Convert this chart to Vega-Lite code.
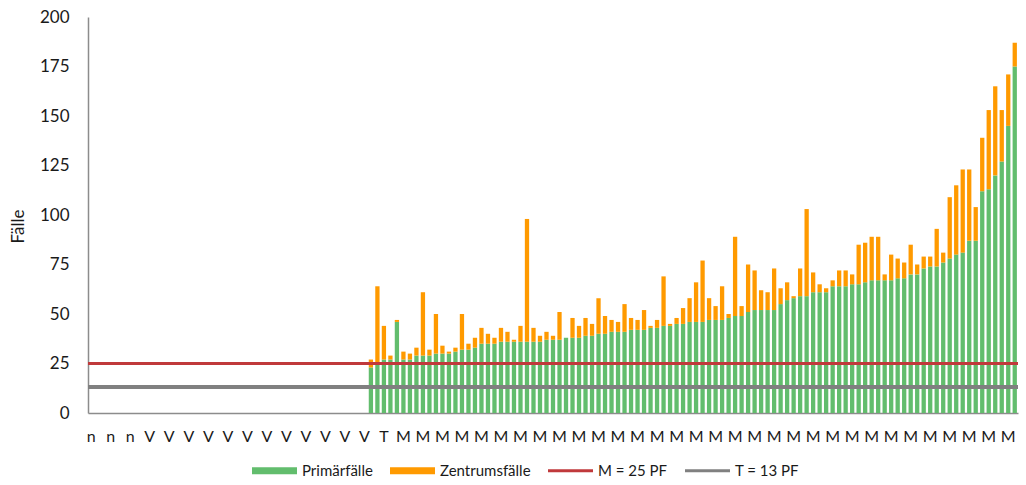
{
  "$schema": "https://vega.github.io/schema/vega-lite/v6.json",
  "width": 930,
  "height": 396,
  "autosize": {"type": "none"},
  "padding": {"left": 88, "top": 17, "right": 8, "bottom": 72},
  "config": {"view": {"stroke": null}, "font": "Lato", "text": {"color": "#1a1a1a"}},
  "data": {"values": [
    {"Kategorie":"n 0","Primärfälle":0,"Zentrumsfälle":0},
    {"Kategorie":"n 1","Primärfälle":0,"Zentrumsfälle":0},
    {"Kategorie":"n 2","Primärfälle":0,"Zentrumsfälle":0},
    {"Kategorie":"n 3","Primärfälle":0,"Zentrumsfälle":0},
    {"Kategorie":"n 4","Primärfälle":0,"Zentrumsfälle":0},
    {"Kategorie":"n 5","Primärfälle":0,"Zentrumsfälle":0},
    {"Kategorie":"n 6","Primärfälle":0,"Zentrumsfälle":0},
    {"Kategorie":"n 7","Primärfälle":0,"Zentrumsfälle":0},
    {"Kategorie":"n 8","Primärfälle":0,"Zentrumsfälle":0},
    {"Kategorie":"V 9","Primärfälle":0,"Zentrumsfälle":0},
    {"Kategorie":"V 10","Primärfälle":0,"Zentrumsfälle":0},
    {"Kategorie":"V 11","Primärfälle":0,"Zentrumsfälle":0},
    {"Kategorie":"V 12","Primärfälle":0,"Zentrumsfälle":0},
    {"Kategorie":"V 13","Primärfälle":0,"Zentrumsfälle":0},
    {"Kategorie":"V 14","Primärfälle":0,"Zentrumsfälle":0},
    {"Kategorie":"V 15","Primärfälle":0,"Zentrumsfälle":0},
    {"Kategorie":"V 16","Primärfälle":0,"Zentrumsfälle":0},
    {"Kategorie":"V 17","Primärfälle":0,"Zentrumsfälle":0},
    {"Kategorie":"V 18","Primärfälle":0,"Zentrumsfälle":0},
    {"Kategorie":"V 19","Primärfälle":0,"Zentrumsfälle":0},
    {"Kategorie":"V 20","Primärfälle":0,"Zentrumsfälle":0},
    {"Kategorie":"V 21","Primärfälle":0,"Zentrumsfälle":0},
    {"Kategorie":"V 22","Primärfälle":0,"Zentrumsfälle":0},
    {"Kategorie":"V 23","Primärfälle":0,"Zentrumsfälle":0},
    {"Kategorie":"V 24","Primärfälle":0,"Zentrumsfälle":0},
    {"Kategorie":"V 25","Primärfälle":0,"Zentrumsfälle":0},
    {"Kategorie":"V 26","Primärfälle":0,"Zentrumsfälle":0},
    {"Kategorie":"V 27","Primärfälle":0,"Zentrumsfälle":0},
    {"Kategorie":"V 28","Primärfälle":0,"Zentrumsfälle":0},
    {"Kategorie":"V 29","Primärfälle":0,"Zentrumsfälle":0},
    {"Kategorie":"V 30","Primärfälle":0,"Zentrumsfälle":0},
    {"Kategorie":"V 31","Primärfälle":0,"Zentrumsfälle":0},
    {"Kategorie":"V 32","Primärfälle":0,"Zentrumsfälle":0},
    {"Kategorie":"V 33","Primärfälle":0,"Zentrumsfälle":0},
    {"Kategorie":"V 34","Primärfälle":0,"Zentrumsfälle":0},
    {"Kategorie":"V 35","Primärfälle":0,"Zentrumsfälle":0},
    {"Kategorie":"V 36","Primärfälle":0,"Zentrumsfälle":0},
    {"Kategorie":"V 37","Primärfälle":0,"Zentrumsfälle":0},
    {"Kategorie":"V 38","Primärfälle":0,"Zentrumsfälle":0},
    {"Kategorie":"V 39","Primärfälle":0,"Zentrumsfälle":0},
    {"Kategorie":"V 40","Primärfälle":0,"Zentrumsfälle":0},
    {"Kategorie":"V 41","Primärfälle":0,"Zentrumsfälle":0},
    {"Kategorie":"V 42","Primärfälle":0,"Zentrumsfälle":0},
    {"Kategorie":"V 43","Primärfälle":23,"Zentrumsfälle":4},
    {"Kategorie":"V 44","Primärfälle":25,"Zentrumsfälle":39},
    {"Kategorie":"T 45","Primärfälle":27,"Zentrumsfälle":17},
    {"Kategorie":"T 46","Primärfälle":27,"Zentrumsfälle":2},
    {"Kategorie":"T 47","Primärfälle":46,"Zentrumsfälle":1},
    {"Kategorie":"M 48","Primärfälle":27,"Zentrumsfälle":4},
    {"Kategorie":"M 49","Primärfälle":27,"Zentrumsfälle":3},
    {"Kategorie":"M 50","Primärfälle":29,"Zentrumsfälle":4},
    {"Kategorie":"M 51","Primärfälle":29,"Zentrumsfälle":32},
    {"Kategorie":"M 52","Primärfälle":29,"Zentrumsfälle":3},
    {"Kategorie":"M 53","Primärfälle":30,"Zentrumsfälle":20},
    {"Kategorie":"M 54","Primärfälle":30,"Zentrumsfälle":4},
    {"Kategorie":"M 55","Primärfälle":30,"Zentrumsfälle":1},
    {"Kategorie":"M 56","Primärfälle":31,"Zentrumsfälle":2},
    {"Kategorie":"M 57","Primärfälle":32,"Zentrumsfälle":18},
    {"Kategorie":"M 58","Primärfälle":32,"Zentrumsfälle":3},
    {"Kategorie":"M 59","Primärfälle":33,"Zentrumsfälle":5},
    {"Kategorie":"M 60","Primärfälle":35,"Zentrumsfälle":8},
    {"Kategorie":"M 61","Primärfälle":35,"Zentrumsfälle":5},
    {"Kategorie":"M 62","Primärfälle":35,"Zentrumsfälle":3},
    {"Kategorie":"M 63","Primärfälle":36,"Zentrumsfälle":7},
    {"Kategorie":"M 64","Primärfälle":36,"Zentrumsfälle":5},
    {"Kategorie":"M 65","Primärfälle":36,"Zentrumsfälle":1},
    {"Kategorie":"M 66","Primärfälle":36,"Zentrumsfälle":8},
    {"Kategorie":"M 67","Primärfälle":36,"Zentrumsfälle":62},
    {"Kategorie":"M 68","Primärfälle":36,"Zentrumsfälle":7},
    {"Kategorie":"M 69","Primärfälle":36,"Zentrumsfälle":3},
    {"Kategorie":"M 70","Primärfälle":37,"Zentrumsfälle":4},
    {"Kategorie":"M 71","Primärfälle":37,"Zentrumsfälle":2},
    {"Kategorie":"M 72","Primärfälle":37,"Zentrumsfälle":14},
    {"Kategorie":"M 73","Primärfälle":38,"Zentrumsfälle":0},
    {"Kategorie":"M 74","Primärfälle":38,"Zentrumsfälle":10},
    {"Kategorie":"M 75","Primärfälle":38,"Zentrumsfälle":6},
    {"Kategorie":"M 76","Primärfälle":39,"Zentrumsfälle":9},
    {"Kategorie":"M 77","Primärfälle":39,"Zentrumsfälle":6},
    {"Kategorie":"M 78","Primärfälle":40,"Zentrumsfälle":18},
    {"Kategorie":"M 79","Primärfälle":40,"Zentrumsfälle":9},
    {"Kategorie":"M 80","Primärfälle":41,"Zentrumsfälle":6},
    {"Kategorie":"M 81","Primärfälle":41,"Zentrumsfälle":5},
    {"Kategorie":"M 82","Primärfälle":41,"Zentrumsfälle":14},
    {"Kategorie":"M 83","Primärfälle":42,"Zentrumsfälle":6},
    {"Kategorie":"M 84","Primärfälle":42,"Zentrumsfälle":5},
    {"Kategorie":"M 85","Primärfälle":42,"Zentrumsfälle":10},
    {"Kategorie":"M 86","Primärfälle":43,"Zentrumsfälle":1},
    {"Kategorie":"M 87","Primärfälle":43,"Zentrumsfälle":4},
    {"Kategorie":"M 88","Primärfälle":44,"Zentrumsfälle":25},
    {"Kategorie":"M 89","Primärfälle":44,"Zentrumsfälle":1},
    {"Kategorie":"M 90","Primärfälle":45,"Zentrumsfälle":3},
    {"Kategorie":"M 91","Primärfälle":45,"Zentrumsfälle":8},
    {"Kategorie":"M 92","Primärfälle":46,"Zentrumsfälle":12},
    {"Kategorie":"M 93","Primärfälle":46,"Zentrumsfälle":20},
    {"Kategorie":"M 94","Primärfälle":46,"Zentrumsfälle":31},
    {"Kategorie":"M 95","Primärfälle":47,"Zentrumsfälle":11},
    {"Kategorie":"M 96","Primärfälle":47,"Zentrumsfälle":7},
    {"Kategorie":"M 97","Primärfälle":47,"Zentrumsfälle":17},
    {"Kategorie":"M 98","Primärfälle":48,"Zentrumsfälle":2},
    {"Kategorie":"M 99","Primärfälle":49,"Zentrumsfälle":40},
    {"Kategorie":"M 100","Primärfälle":49,"Zentrumsfälle":5},
    {"Kategorie":"M 101","Primärfälle":51,"Zentrumsfälle":24},
    {"Kategorie":"M 102","Primärfälle":52,"Zentrumsfälle":20},
    {"Kategorie":"M 103","Primärfälle":52,"Zentrumsfälle":10},
    {"Kategorie":"M 104","Primärfälle":52,"Zentrumsfälle":9},
    {"Kategorie":"M 105","Primärfälle":52,"Zentrumsfälle":21},
    {"Kategorie":"M 106","Primärfälle":55,"Zentrumsfälle":8},
    {"Kategorie":"M 107","Primärfälle":57,"Zentrumsfälle":9},
    {"Kategorie":"M 108","Primärfälle":58,"Zentrumsfälle":1},
    {"Kategorie":"M 109","Primärfälle":59,"Zentrumsfälle":14},
    {"Kategorie":"M 110","Primärfälle":59,"Zentrumsfälle":44},
    {"Kategorie":"M 111","Primärfälle":61,"Zentrumsfälle":10},
    {"Kategorie":"M 112","Primärfälle":61,"Zentrumsfälle":4},
    {"Kategorie":"M 113","Primärfälle":61,"Zentrumsfälle":2},
    {"Kategorie":"M 114","Primärfälle":64,"Zentrumsfälle":3},
    {"Kategorie":"M 115","Primärfälle":64,"Zentrumsfälle":8},
    {"Kategorie":"M 116","Primärfälle":64,"Zentrumsfälle":8},
    {"Kategorie":"M 117","Primärfälle":65,"Zentrumsfälle":5},
    {"Kategorie":"M 118","Primärfälle":65,"Zentrumsfälle":20},
    {"Kategorie":"M 119","Primärfälle":66,"Zentrumsfälle":20},
    {"Kategorie":"M 120","Primärfälle":67,"Zentrumsfälle":22},
    {"Kategorie":"M 121","Primärfälle":67,"Zentrumsfälle":22},
    {"Kategorie":"M 122","Primärfälle":67,"Zentrumsfälle":3},
    {"Kategorie":"M 123","Primärfälle":67,"Zentrumsfälle":13},
    {"Kategorie":"M 124","Primärfälle":68,"Zentrumsfälle":10},
    {"Kategorie":"M 125","Primärfälle":68,"Zentrumsfälle":8},
    {"Kategorie":"M 126","Primärfälle":70,"Zentrumsfälle":15},
    {"Kategorie":"M 127","Primärfälle":70,"Zentrumsfälle":5},
    {"Kategorie":"M 128","Primärfälle":73,"Zentrumsfälle":6},
    {"Kategorie":"M 129","Primärfälle":74,"Zentrumsfälle":5},
    {"Kategorie":"M 130","Primärfälle":74,"Zentrumsfälle":19},
    {"Kategorie":"M 131","Primärfälle":76,"Zentrumsfälle":5},
    {"Kategorie":"M 132","Primärfälle":78,"Zentrumsfälle":31},
    {"Kategorie":"M 133","Primärfälle":80,"Zentrumsfälle":35},
    {"Kategorie":"M 134","Primärfälle":81,"Zentrumsfälle":42},
    {"Kategorie":"M 135","Primärfälle":87,"Zentrumsfälle":36},
    {"Kategorie":"M 136","Primärfälle":87,"Zentrumsfälle":17},
    {"Kategorie":"M 137","Primärfälle":112,"Zentrumsfälle":27},
    {"Kategorie":"M 138","Primärfälle":113,"Zentrumsfälle":40},
    {"Kategorie":"M 139","Primärfälle":120,"Zentrumsfälle":45},
    {"Kategorie":"M 140","Primärfälle":127,"Zentrumsfälle":26},
    {"Kategorie":"M 141","Primärfälle":145,"Zentrumsfälle":26},
    {"Kategorie":"M 142","Primärfälle":175,"Zentrumsfälle":12}
  ]},
  "layer": [
    {
      "transform": [{"fold": ["Primärfälle", "Zentrumsfälle"], "as": ["Art", "Fälle"]}],
      "mark": {"type": "bar"},
      "encoding": {
        "x": {
          "field": "Kategorie", "type": "ordinal", "sort": null,
          "scale": {"paddingInner": 0.34, "paddingOuter": 0.17},
          "axis": {
            "title": null,
            "values": ["n 0","n 3","n 6","V 9","V 12","V 15","V 18","V 21","V 24","V 27","V 30","V 33","V 36","V 39","V 42","T 45","M 48","M 51","M 54","M 57","M 60","M 63","M 66","M 69","M 72","M 75","M 78","M 81","M 84","M 87","M 90","M 93","M 96","M 99","M 102","M 105","M 108","M 111","M 114","M 117","M 120","M 123","M 126","M 129","M 132","M 135","M 138","M 141"],
            "labelExpr": "substring(datum.label, 0, 1)",
            "labelAngle": 0,
            "labelOverlap": false,
            "labelFontSize": 16,
            "labelColor": "#1a1a1a",
            "labelPadding": 15,
            "ticks": false,
            "domainColor": "#8c8c8c",
            "domainWidth": 1.5
          }
        },
        "y": {
          "field": "Fälle", "type": "quantitative", "stack": "zero",
          "scale": {"domain": [0, 200], "nice": false},
          "axis": {
            "title": "Fälle",
            "values": [0, 25, 50, 75, 100, 125, 150, 175, 200],
            "grid": false,
            "ticks": false,
            "labelFontSize": 17,
            "labelColor": "#1a1a1a",
            "labelPadding": 19,
            "domainColor": "#8c8c8c",
            "domainWidth": 1.5,
            "titleFontSize": 17,
            "titleFontWeight": "normal",
            "titleColor": "#1a1a1a",
            "titleX": -70,
            "titleY": 209,
            "titleAngle": -90,
            "titleAlign": "center",
            "titleBaseline": "middle"
          }
        },
        "order": {"field": "Art", "type": "nominal", "sort": "ascending"},
        "color": {
          "field": "Art", "type": "nominal",
          "scale": {
            "domain": ["Primärfälle", "Zentrumsfälle", "M = 25 PF", "T = 13 PF"],
            "range": ["#62bd6d", "#ff9a00", "#c0393b", "#808080"]
          },
          "legend": {
            "title": null,
            "orient": "none",
            "direction": "horizontal",
            "legendX": 164,
            "legendY": 431,
            "padding": 0,
            "symbolSize": 2025,
            "symbolType": "M-1,-0.155H1V0.155H-1Z",
            "labelFontSize": 15,
            "labelColor": "#1a1a1a",
            "labelOffset": 5,
            "columnPadding": 17,
            "encode": {
              "symbols": {
                "update": {
                  "shape": {"signal": "indexof(datum.value, 'PF') >= 0 ? 'M-1,-0.067H1V0.067H-1Z' : 'M-1,-0.155H1V0.155H-1Z'"},
                  "fill": {"scale": "color", "field": "value"},
                  "stroke": {"value": "transparent"},
                  "strokeWidth": {"value": 0},
                  "opacity": {"value": 1}
                }
              }
            }
          }
        }
      }
    },
    {
      "mark": {"type": "rule", "strokeWidth": 3},
      "encoding": {
        "y": {"datum": 25, "type": "quantitative"},
        "color": {"datum": "M = 25 PF", "type": "nominal"}
      }
    },
    {
      "mark": {"type": "rule", "strokeWidth": 3},
      "encoding": {
        "y": {"datum": 13, "type": "quantitative"},
        "color": {"datum": "T = 13 PF", "type": "nominal"}
      }
    }
  ]
}
